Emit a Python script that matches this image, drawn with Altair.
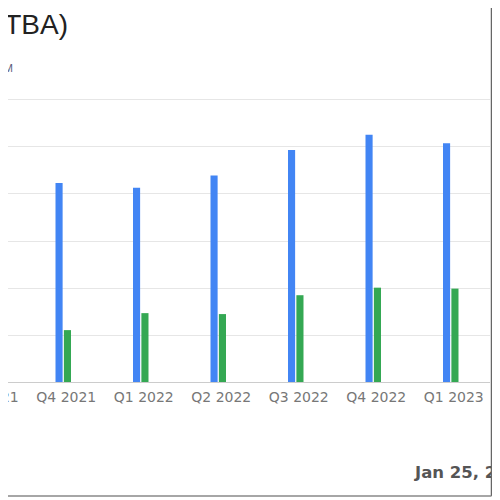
import altair as alt
import pandas as pd

quarters = ["Q3 2021", "Q4 2021", "Q1 2022", "Q2 2022", "Q3 2022", "Q4 2022", "Q1 2023"]
revenue = [200, 211, 206, 219, 246, 262, 253]
net_income = [50, 55, 73, 72, 92, 100, 99]
series = ["Revenue", "Net Income"]
y_ticks = [0, 50, 100, 150, 200, 250, 300]

title_text = "Revenue & Net Income (TBA)"
subtitle_text = "Quarterly results, USD M"
date_text = "Jan 25, 2024"

rows = []
for q, r, n in zip(quarters, revenue, net_income):
    rows.append({"quarter": q, "series": series[0], "value": r})
    rows.append({"quarter": q, "series": series[1], "value": n})
df = pd.DataFrame(rows)

bars = alt.Chart(df).mark_bar().encode(
    x=alt.X("quarter:N", sort=quarters,
            scale=alt.Scale(paddingInner=0.8, paddingOuter=0.4),
            axis=alt.Axis(title=None, labelAngle=0, ticks=False, labelPadding=8,
                          labelFont="DejaVu Sans", labelFontSize=14, labelColor="#777777",
                          labelOffset=3, domainColor="#cccccc", grid=False)),
    xOffset=alt.XOffset("series:N", sort=series,
                        scale=alt.Scale(paddingInner=0.15, paddingOuter=0)),
    y=alt.Y("value:Q", scale=alt.Scale(domain=[0, 300], nice=False),
            axis=alt.Axis(title=None, values=y_ticks, labels=False, ticks=False,
                          domain=False, gridColor="#e6e6e6")),
    color=alt.Color("series:N", sort=series,
                    scale=alt.Scale(domain=series, range=["#4285F4", "#34A853"]),
                    legend=None),
)

one = pd.DataFrame({"t": [title_text], "s": [subtitle_text], "d": [date_text]})

title_txt = alt.Chart(one).mark_text(
    align="right", baseline="alphabetic", font="Liberation Sans", fontSize=28, color="#222222"
).encode(text="t:N", x=alt.value(121), y=alt.value(-65))

sub_txt = alt.Chart(one).mark_text(
    align="right", baseline="alphabetic", font="Liberation Sans", fontSize=11, color="#5c5c7a"
).encode(text="s:N", x=alt.value(66), y=alt.value(-27))

date_txt = alt.Chart(one).mark_text(
    align="left", baseline="alphabetic", font="DejaVu Sans", fontSize=16.5, fontWeight="bold",
    color="#555555"
).encode(text="d:N", x=alt.value(468), y=alt.value(379))

rborder = alt.Chart(one).mark_rule(color="#666666", strokeWidth=1.5).encode(
    x=alt.value(544.5), y=alt.value(-91), y2=alt.value(397))
bborder = alt.Chart(one).mark_rule(color="#888888", strokeWidth=1.5).encode(
    x=alt.value(53), x2=alt.value(544.5), y=alt.value(397))

chart = alt.layer(bars, title_txt, sub_txt, date_txt, rborder, bborder).properties(
    width=542.5, height=283,
    padding={"left": -61, "top": 91, "right": 2.5, "bottom": 116},
    autosize="none",
).configure_view(stroke=None)

chart.save("out.html", embed_options={"renderer": "svg", "actions": False})
